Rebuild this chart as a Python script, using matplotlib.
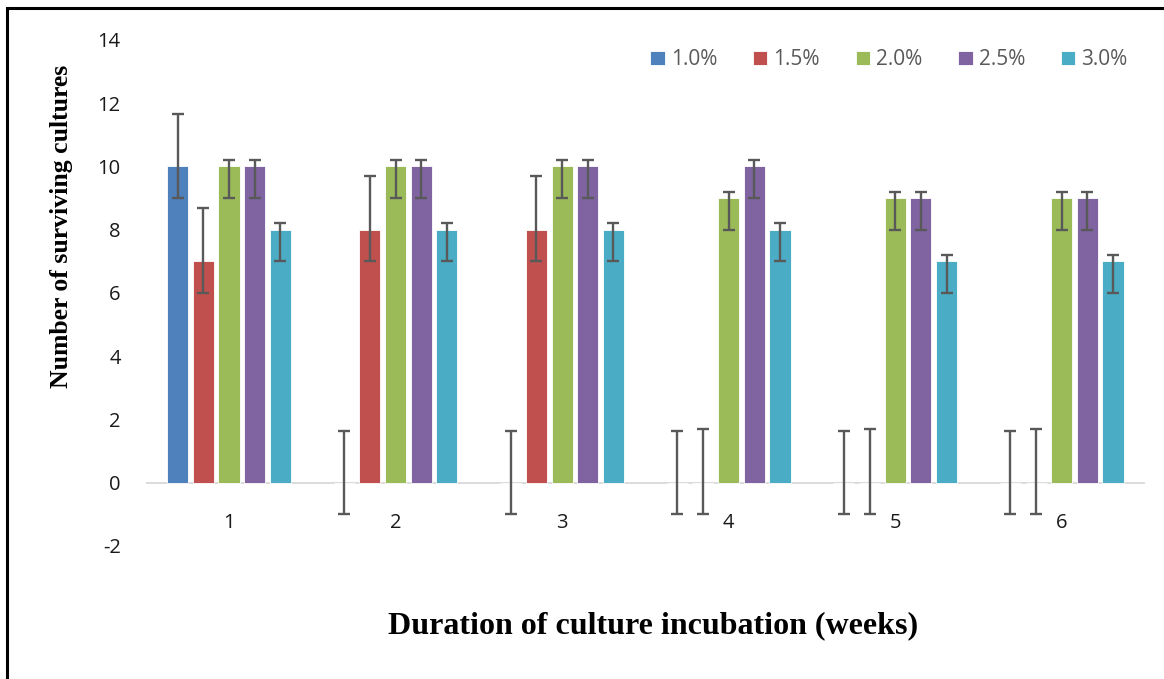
import matplotlib
matplotlib.use("Agg")
import matplotlib.pyplot as plt
import numpy as np
from matplotlib.patches import Rectangle

weeks = ["1", "2", "3", "4", "5", "6"]
series = ["1.0%", "1.5%", "2.0%", "2.5%", "3.0%"]
v10 = [10, 0, 0, 0, 0, 0]
v15 = [7, 8, 8, 0, 0, 0]
v20 = [10, 10, 10, 9, 9, 9]
v25 = [10, 10, 10, 10, 9, 9]
v30 = [8, 8, 8, 8, 7, 7]
values = [v10, v15, v20, v25, v30]
err_plus = [1.65, 1.7, 0.2, 0.2, 0.2]
err_minus = [1.0, 1.0, 1.0, 1.0, 1.0]
colors = ["#4F81BD", "#C0504D", "#9BBB59", "#8064A2", "#4BACC6"]
yticks = [-2, 0, 2, 4, 6, 8, 10, 12, 14]

fig = plt.figure(figsize=(11.64, 6.79), dpi=100)
ax = fig.add_axes([0.1252, 0.1959, 0.8585, 0.7452])

x = np.arange(len(weeks))
pitch = 0.154
width = 0.127
for i, (name, vals, c) in enumerate(zip(series, values, colors)):
    pos = x + (i - 2) * pitch
    ax.bar(pos, vals, width=width, color=c, edgecolor="white", linewidth=0.6,
           label=name, zorder=2)
    ax.errorbar(pos, vals, yerr=[[err_minus[i]] * len(vals), [err_plus[i]] * len(vals)],
                fmt="none", ecolor="#595959", elinewidth=1.7, capsize=4.3,
                capthick=1.7, zorder=3)

ax.set_xlim(-0.5, len(weeks) - 0.5)
ax.set_ylim(-2, 14)
ax.spines["bottom"].set_position(("data", 0))
ax.set_yticks(yticks)
ax.set_yticklabels([str(t) for t in yticks], fontfamily="Open Sans", fontsize=14.5, color="#1a1a1a")
ax.set_xticks(x)
ax.set_xticklabels(weeks, fontfamily="Open Sans", fontsize=14.5, color="#1a1a1a")
ax.tick_params(axis="y", length=0, pad=18)
ax.tick_params(axis="x", length=0, pad=22)
for s in ["top", "right", "left", "bottom"]:
    ax.spines[s].set_visible(False)
ax.axhline(0, color="#d9d9d9", linewidth=1.3, zorder=1)

fig.text(0.053, 0.667, "Number of surviving cultures", rotation=90,
         ha="center", va="center", fontfamily="Liberation Serif",
         fontweight="bold", fontsize=18.5)
fig.text(0.561, 0.078, "Duration of culture incubation (weeks)", ha="center",
         va="center", fontfamily="Liberation Serif", fontweight="bold", fontsize=23)

leg = ax.legend(loc="center", bbox_to_anchor=(0.7638, 0.912), bbox_transform=fig.transFigure,
                ncol=5, frameon=False, handlelength=0.68, handleheight=0.68,
                handletextpad=0.3, columnspacing=1.72,
                prop={"family": "Open Sans", "size": 15})
for t in leg.get_texts():
    t.set_color("#595959")

fig.patches.append(Rectangle((7 / 1164, -0.05), 1.2, 1 - 8 / 679 + 0.05,
                             transform=fig.transFigure, fill=False,
                             edgecolor="black", linewidth=2.2))

fig.savefig("out.png", dpi=100)
